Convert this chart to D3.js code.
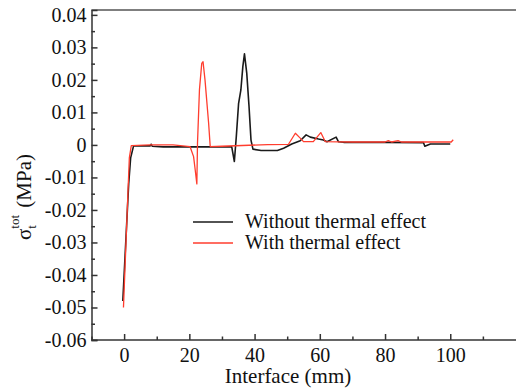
<!DOCTYPE html>
<html>
<head>
<meta charset="utf-8">
<script src="https://cdn.jsdelivr.net/npm/d3@7"></script>
<style>
  body { margin: 0; background: #fff; }
  svg text { font-family: "Times New Roman", Times, "Liberation Serif", "Noto Serif", "DejaVu Serif", serif; }
</style>
</head>
<body>
<div id="chart"></div>
<script>
// Datos: interfaz (mm) y tensión total (MPa)
const xWithout = [-0.4, 0.6, 1.4, 2.0, 2.9, 8.0, 8.3, 8.6, 12, 19, 33.0, 33.8, 34.4, 35.1, 35.8, 36.4, 36.9, 37.6, 38.3, 38.9, 39.5, 42, 47, 48.9, 51.4, 54.0, 55.8, 57.1, 59.6, 61.1, 62.2, 65.0, 65.7, 67.3, 80, 91.8, 92.2, 93.9, 100];
const yWithout = [-0.048, -0.028, -0.012, -0.004, -0.0003, -0.0003, 0.0002, -0.0004, -0.0006, -0.0006, -0.0006, -0.0051, 0.0026, 0.0128, 0.0169, 0.0241, 0.028, 0.0221, 0.0118, 0.0015, -0.0013, -0.0017, -0.0017, -0.001, 0.0003, 0.0013, 0.0031, 0.0024, 0.0018, 0.0015, 0.001, 0.0024, 0.001, 0.0008, 0.0008, 0.0007, -0.0004, 0.0003, 0.0003];

const xWith = [-0.2, 1.2, 1.6, 2.2, 8, 15, 20.2, 21.3, 21.8, 22.3, 22.5, 23.1, 23.8, 24.2, 24.8, 25.9, 26.4, 30, 44, 50.4, 52.5, 54.0, 55.0, 58.0, 60.3, 61.7, 70, 80, 81, 82, 84, 85, 90, 100.3, 100.9];
const yWith = [-0.05, -0.014, -0.004, -0.0002, 0, 0, -0.0005, -0.0036, -0.0077, -0.012, 0.0005, 0.017, 0.0251, 0.0256, 0.02, 0.0068, -0.0005, -0.0004, 0.0001, 0.0002, 0.0036, 0.0021, 0.001, 0.001, 0.0038, 0.001, 0.0009, 0.0009, 0.0013, 0.0009, 0.0013, 0.0009, 0.0009, 0.0009, 0.0016];

const xTicks = [0, 20, 40, 60, 80, 100];
const xMinor = [-10, 10, 30, 50, 70, 90, 110];
const yTicks = [-0.06, -0.05, -0.04, -0.03, -0.02, -0.01, 0, 0.01, 0.02, 0.03, 0.04];
const yMinor = [-0.055, -0.045, -0.035, -0.025, -0.015, -0.005, 0.005, 0.015, 0.025, 0.035];

const series = [
  { name: "Without thermal effect", xs: xWithout, ys: yWithout, color: "#1a1a1a", w: 1.6 },
  { name: "With thermal effect", xs: xWith, ys: yWith, color: "#ff3d2e", w: 1.3 }
];

// Dimensiones
const width = 516, height = 390;
const axisColor = "#333";

const svg = d3.select("#chart").append("svg")
  .attr("width", width)
  .attr("height", height);

// Escalas
const x = d3.scaleLinear().domain([-10, 120]).range([91.5, 515.5]);
const y = d3.scaleLinear().domain([-0.06, 0.0415]).range([340, 10]);

// Marco superior
svg.append("line")
  .attr("x1", x(-10)).attr("x2", width)
  .attr("y1", y(0.0415)).attr("y2", y(0.0415))
  .attr("stroke", "#555").attr("stroke-width", 1.5);

// Eje X (ticks hacia dentro)
const gx = svg.append("g")
  .attr("transform", `translate(0,${y(-0.06)})`)
  .call(d3.axisBottom(x).tickValues(xTicks).tickSize(-6).tickPadding(8)
    .tickFormat(d3.format("d")));
svg.append("g")
  .attr("transform", `translate(0,${y(-0.06)})`)
  .call(d3.axisBottom(x).tickValues(xMinor).tickSize(-3.5).tickFormat(""))
  .call(g => g.select(".domain").remove());

// Eje Y
const gy = svg.append("g")
  .attr("transform", `translate(${x(-10)},0)`)
  .call(d3.axisLeft(y).tickValues(yTicks).tickSize(-6).tickPadding(5)
    .tickFormat(d => d === 0 ? "0" : d.toFixed(2)));
svg.append("g")
  .attr("transform", `translate(${x(-10)},0)`)
  .call(d3.axisLeft(y).tickValues(yMinor).tickSize(-3.5).tickFormat(""))
  .call(g => g.select(".domain").remove());

svg.selectAll(".domain, .tick line")
  .attr("stroke", axisColor)
  .attr("stroke-width", 1.5);
svg.selectAll(".tick text")
  .attr("font-size", 20)
  .attr("fill", "#111");
gx.select(".domain").attr("d", `M${x(-10)},0H${width}`);

// Curvas
const line = d3.line()
  .x(d => x(d[0]))
  .y(d => y(d[1]));

svg.append("g")
  .attr("fill", "none")
  .selectAll("path")
  .data(series)
  .join("path")
  .attr("stroke", d => d.color)
  .attr("stroke-width", d => d.w)
  .attr("stroke-linejoin", "round")
  .attr("d", d => line(d3.zip(d.xs, d.ys)));

// Leyenda
const legend = svg.append("g")
  .attr("font-size", 20)
  .selectAll("g")
  .data(series)
  .join("g")
  .attr("transform", (d, i) => `translate(193,${222 + i * 21})`);
legend.append("line")
  .attr("x1", 0).attr("x2", 40)
  .attr("stroke", d => d.color)
  .attr("stroke-width", 1.5);
legend.append("text")
  .attr("x", 52)
  .attr("dy", "0.3em")
  .attr("fill", "#111")
  .text(d => d.name);

// Títulos de ejes
svg.append("text")
  .attr("x", 288)
  .attr("y", 383)
  .attr("text-anchor", "middle")
  .attr("font-size", 21)
  .attr("fill", "#111")
  .text("Interface (mm)");

const ylab = svg.append("text")
  .attr("transform", "translate(31,240) rotate(-90)")
  .attr("font-size", 21)
  .attr("fill", "#111");
ylab.append("tspan").text("σ");
ylab.append("tspan").attr("font-size", 13).attr("dy", 5).text("t");
ylab.append("tspan").attr("font-size", 13).attr("dx", -3.6).attr("dy", -17).text("tot");
ylab.append("tspan").attr("dy", 12).attr("dx", 2).text(" (MPa)");
</script>
</body>
</html>
